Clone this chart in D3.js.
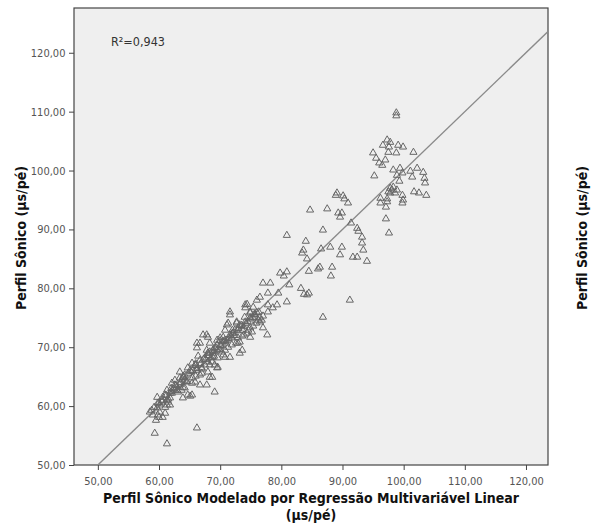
<!doctype html>
<html lang="pt">
<head>
  <meta charset="utf-8">
  <title>Perfil Sônico - Regressão Multivariável Linear</title>
  <script src="https://cdn.jsdelivr.net/npm/d3@7"></script>
  <style type="text/css">
    body {
      margin: 0;
      background-color: #ffffff;
    }
    text {
      font-family: "DejaVu Sans Condensed", "DejaVu Sans", sans-serif;
    }
    .tick text {
      fill: #555555;
      font-size: 11px;
    }
    .tick line, .domain {
      stroke: #444444;
    }
    .title {
      font-weight: bold;
      font-size: 14px;
      fill: #111111;
    }
    .point {
      fill: none;
      stroke: #666666;
      stroke-width: 1;
    }
    .fit {
      stroke: #8a8a8a;
      stroke-width: 1.4;
    }
  </style>
</head>
<body>
  <div id="container"></div>
<script type="text/javascript">

  var modelado = [
    98.8, 98.8, 97.3, 97.8, 97.6, 96.6, 99.1, 99.9, 101.6, 95.0, 95.5, 96.0, 96.5, 97.0, 97.5, 98.8,
    95.2, 98.3, 99.4, 99.8, 98.9, 101.1, 101.4, 102.2, 103.2, 103.4, 103.5, 101.7, 102.5, 103.7,
    98.1, 98.3, 97.8, 98.6, 99.8, 99.9, 99.3, 96.2, 97.3, 97.1, 99.8,
    97.8, 97.5, 98.9, 97.3, 96.2, 97.1, 97.6, 89.1, 88.9, 90.1, 90.3, 90.9, 84.7, 87.5, 89.3, 89.9,
    89.6, 91.4, 92.4, 92.6, 86.8, 93.2, 93.2, 84.0, 93.4, 89.9, 88.0, 83.6, 83.4, 86.5, 89.6, 91.7,
    92.4, 94.0, 84.2, 86.3, 88.3,
    80.9, 79.8, 80.4, 80.9, 84.5, 86.0, 88.1, 81.3, 83.2, 83.7, 84.5, 84.2, 80.9, 91.2, 86.8,
    77.0, 78.2, 77.8, 76.5, 76.0, 79.5, 79.3, 77.8, 71.6, 71.6, 74.1, 74.9, 76.5, 77.0, 77.7, 72.7,
    71.1, 67.2, 68.0, 66.2, 66.2, 72.9, 73.6, 73.2, 69.5, 69.1, 69.6, 68.3,
    74.4, 75.4, 74.1, 74.9, 75.7, 76.8, 72.7, 71.3, 70.8, 72.1, 73.7, 74.4, 74.9, 75.2, 70.0, 71.1,
    73.2, 68.8, 67.8, 66.7, 69.5, 70.5, 71.6,
    67.8, 68.3, 69.5, 70.5, 66.4, 68.0, 68.8, 65.4, 64.7, 66.2, 67.0, 68.0, 69.5, 68.7, 66.7, 67.8,
    69.1, 63.4, 63.9, 62.6, 62.9, 62.1, 63.7, 64.7, 65.1, 63.9, 61.3, 61.8, 60.6, 61.5, 60.5, 61.8,
    61.0, 59.8, 59.7, 60.1, 58.8, 59.2, 58.5, 59.0, 60.0, 61.0, 59.5, 60.6, 59.7, 59.3, 66.2, 64.2,
    61.3, 65.4, 61.3, 59.8,
    62.6, 63.4, 64.2, 65.1, 65.9, 66.7, 67.5, 68.3, 69.1, 70.0, 70.8, 71.6, 72.4, 73.2, 74.1, 74.9,
    75.7, 63.4, 64.6, 65.5, 66.7, 67.5, 68.7, 69.6, 70.8, 71.9, 72.9, 73.9, 74.9, 75.9, 76.5, 61.0,
    61.8, 60.1, 62.6, 65.9, 67.0, 64.2, 65.4, 68.0, 69.0, 70.3, 71.3, 72.6, 73.6, 74.6, 75.4, 76.2,
    77.0, 77.8, 78.6, 61.3, 62.1, 63.1, 63.9, 66.0, 68.3, 70.8, 71.9,
    60.5, 61.2, 62.0, 62.8, 63.5, 64.0, 64.8, 65.5, 66.0, 66.8, 67.3, 68.1, 68.8, 69.3, 70.1, 70.6,
    71.4, 72.0, 72.8, 73.5, 74.2, 75.0, 75.6, 76.3, 60.0, 61.5, 62.4, 63.0, 63.8, 64.5, 65.2, 66.2,
    67.0, 67.6, 68.5, 69.0, 69.8, 70.4, 71.0, 71.8, 72.4, 73.0, 73.8, 74.5, 75.3, 76.0, 62.0, 64.0,
    66.0, 68.0, 70.0, 72.0, 74.0
  ];
  var observado = [
    109.8, 109.3, 105.2, 104.8, 104.0, 104.3, 104.3, 104.0, 103.1, 103.0, 102.1, 101.3, 100.9, 101.8, 103.1, 103.0,
    99.1, 100.1, 100.4, 99.6, 99.2, 99.9, 98.9, 100.4, 99.7, 98.7, 97.9, 96.4, 96.2, 95.8,
    96.7, 97.2, 96.2, 96.2, 95.8, 95.0, 98.2, 94.5, 94.7, 93.8, 94.5,
    97.0, 96.4, 96.7, 95.2, 95.3, 91.8, 89.4, 96.2, 95.8, 95.7, 95.2, 94.5, 93.3, 93.5, 92.8, 92.8,
    92.1, 91.1, 90.2, 89.7, 89.9, 88.7, 87.7, 88.0, 86.5, 87.0, 87.0, 86.5, 86.0, 86.7, 85.7, 85.3,
    85.3, 84.6, 85.0, 83.6, 83.6,
    89.0, 82.6, 82.1, 82.8, 82.9, 83.3, 82.1, 80.6, 80.0, 79.0, 79.2, 78.9, 77.7, 78.0, 75.1,
    80.9, 80.9, 79.2, 78.5, 78.0, 79.2, 77.2, 77.2, 76.0, 75.5, 77.2, 76.0, 74.3, 73.3, 72.1, 74.1,
    73.8, 72.1, 71.7, 70.7, 69.9, 70.7, 69.5, 69.0, 69.5, 67.0, 66.6, 64.9,
    77.3, 76.8, 76.7, 75.8, 75.0, 74.6, 74.3, 74.1, 72.9, 72.4, 72.9, 72.4, 71.7, 72.6, 71.6, 71.2,
    70.9, 69.5, 69.5, 70.7, 70.4, 68.7, 68.3,
    72.1, 70.7, 71.2, 71.7, 68.5, 69.0, 68.3, 67.3, 66.5, 66.1, 65.6, 65.8, 66.5, 64.9, 63.6, 63.6,
    62.4, 65.8, 64.9, 64.4, 63.2, 63.9, 62.7, 61.9, 61.7, 61.4, 62.7, 62.2, 61.5, 60.7, 60.7, 60.2,
    59.8, 60.5, 59.7, 59.0, 59.3, 59.8, 59.0, 58.5, 58.1, 58.8, 57.6, 58.1, 61.5, 55.4, 56.3, 64.4,
    53.6, 61.9, 60.2, 58.5,
    63.6, 64.8, 65.3, 66.1, 67.0, 67.8, 68.2, 69.2, 69.9, 70.4, 71.2, 72.1, 72.9, 73.8, 74.3, 75.0,
    75.5, 63.6, 64.1, 64.8, 65.3, 67.0, 67.5, 68.2, 69.5, 70.4, 71.6, 72.1, 73.3, 74.1, 75.0, 61.9,
    61.4, 60.2, 62.7, 64.1, 66.5, 63.1, 63.9, 67.5, 68.5, 69.2, 70.0, 70.7, 71.9, 72.9, 73.6, 74.6,
    75.3, 76.0, 76.7, 61.0, 62.2, 62.4, 63.2, 65.1, 67.0, 68.3, 71.6,
    61.0, 61.8, 62.5, 63.5, 64.0, 64.9, 65.6, 66.0, 66.9, 67.2, 68.0, 68.6, 69.0, 69.9, 70.3, 71.0,
    71.5, 72.4, 72.8, 73.7, 74.0, 74.8, 75.6, 76.0, 60.6, 61.2, 62.9, 62.7, 64.6, 64.2, 65.9, 66.4,
    66.3, 67.9, 68.2, 69.3, 69.6, 70.9, 70.7, 71.9, 72.0, 73.2, 73.5, 74.4, 75.1, 75.9, 63.0, 65.1,
    67.2, 69.0, 71.1, 72.9, 75.1
  ];

  // Tick values on both axes
  var xTicks = [50, 60, 70, 80, 90, 100, 110, 120];
  var yTicks = [50, 60, 70, 80, 90, 100, 110, 120];

  // Fit line (observado = intercept + slope * modelado) and its R²
  var fitIntercept = 0;
  var fitSlope = 1;
  var rSquared = "0,943";

  // SVG dimensions
  var width = 593, height = 529;
  var plot = { left: 74, top: 8, right: 548, bottom: 465 };

  var svg = d3.select("#container")
              .append("svg")
              .attr("width", width)
              .attr("height", height);

  var xScale = d3.scaleLinear()
    .domain([46.1, 123.6])
    .range([plot.left, plot.right]);
  var yScale = d3.scaleLinear()
    .domain([50, 127.6])
    .range([plot.bottom, plot.top]);

  var commaFormat = function(d) { return d3.format(".2f")(d).replace(".", ","); };

  // Plot background
  svg.append("rect")
    .attr("x", plot.left)
    .attr("y", plot.top)
    .attr("width", plot.right - plot.left)
    .attr("height", plot.bottom - plot.top)
    .attr("fill", "#efefef")
    .attr("stroke", "#444444")
    .attr("stroke-width", 1.2);

  svg.append("clipPath")
    .attr("id", "clip")
    .append("rect")
    .attr("x", plot.left)
    .attr("y", plot.top)
    .attr("width", plot.right - plot.left)
    .attr("height", plot.bottom - plot.top);

  // Axes
  svg.append("g")
    .attr("transform", "translate(0," + plot.bottom + ")")
    .call(d3.axisBottom(xScale).tickValues(xTicks).tickFormat(commaFormat).tickSize(5).tickSizeOuter(0))
    .call(function(g) { g.select(".domain").remove(); })
    .selectAll(".tick text").attr("dy", "1.05em");

  svg.append("g")
    .attr("transform", "translate(" + plot.left + ",0)")
    .call(d3.axisLeft(yScale).tickValues(yTicks).tickFormat(commaFormat).tickSize(5).tickSizeOuter(0))
    .call(function(g) { g.select(".domain").remove(); })
    .selectAll(".tick text").attr("dx", "-0.05em");

  // Fit line
  var xr = xScale.domain();
  svg.append("line")
    .attr("class", "fit")
    .attr("clip-path", "url(#clip)")
    .attr("x1", xScale(50))
    .attr("y1", yScale(fitIntercept + fitSlope * 50))
    .attr("x2", xScale(xr[1]))
    .attr("y2", yScale(fitIntercept + fitSlope * xr[1]));

  // Points
  var points = modelado.map(function(d, i) { return { x: d, y: observado[i] }; });
  var triangle = d3.symbol().type(d3.symbolTriangle).size(22);
  svg.append("g")
    .attr("clip-path", "url(#clip)")
    .selectAll(".point")
    .data(points)
    .enter()
    .append("path")
    .attr("class", "point")
    .attr("d", triangle)
    .attr("transform", function(d) { return "translate(" + xScale(d.x) + "," + yScale(d.y) + ")"; });

  // R² label
  svg.append("text")
    .attr("x", 138)
    .attr("y", 46)
    .attr("text-anchor", "middle")
    .attr("fill", "#333333")
    .attr("font-size", "12.5px")
    .text("R²=" + rSquared);

  // Axis titles
  svg.append("text")
    .attr("class", "title")
    .attr("x", 311)
    .attr("y", 503)
    .attr("text-anchor", "middle")
    .text("Perfil Sônico Modelado por Regressão Multivariável Linear");
  svg.append("text")
    .attr("class", "title")
    .attr("x", 311)
    .attr("y", 520)
    .attr("text-anchor", "middle")
    .text("(μs/pé)");

  svg.append("text")
    .attr("class", "title")
    .attr("transform", "translate(26,238) rotate(-90)")
    .attr("text-anchor", "middle")
    .text("Perfil Sônico (μs/pé)");
  svg.append("text")
    .attr("class", "title")
    .attr("transform", "translate(587,238) rotate(-90)")
    .attr("text-anchor", "middle")
    .text("Perfil Sônico (μs/pé)");

</script>
</body>
</html>
